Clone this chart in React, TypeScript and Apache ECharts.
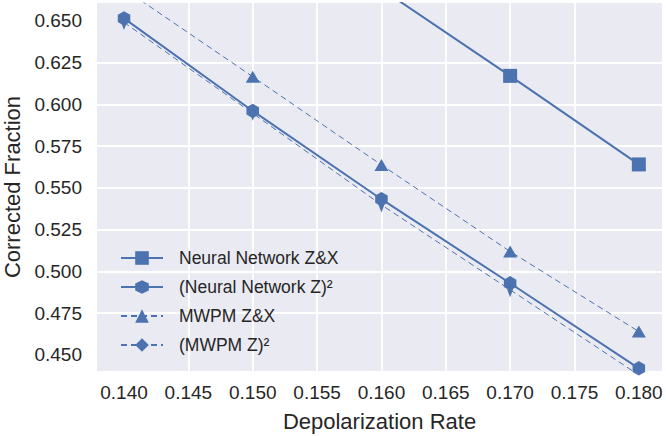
import React, { useEffect, useRef } from "react";
import * as echarts from "echarts";

const rates = [0.14, 0.15, 0.16, 0.17, 0.18];
const nnZX = [0.775, 0.722, 0.669, 0.617, 0.564];
const nnZ2 = [0.6514, 0.596, 0.5432, 0.4929, 0.442];
const mwpmZX = [0.669, 0.6165, 0.5637, 0.5119, 0.464];
const mwpmZ2 = [0.649, 0.5946, 0.5398, 0.489, 0.438];

const xTicks = [0.14, 0.145, 0.15, 0.155, 0.16, 0.165, 0.17, 0.175, 0.18];
const yTicks = [0.45, 0.475, 0.5, 0.525, 0.55, 0.575, 0.6, 0.625, 0.65];

const seriesNames = [
  "Neural Network Z&X",
  "(Neural Network Z)²",
  "MWPM Z&X",
  "(MWPM Z)²",
];

const COLOR = "#4C72B0";
const TEXT = "#262626";
const FONT = "'Liberation Sans', Arial, sans-serif";

const HEX = "path://M0,-1 L0.866,-0.5 L0.866,0.5 L0,1 L-0.866,0.5 L-0.866,-0.5 Z";
const THIN_DIAMOND = "path://M0,-1 L0.6,0 L0,1 L-0.6,0 Z";

function pairs(ys: number[]) {
  return rates.map((x, i) => [x, ys[i]]);
}

export default function App() {
  const ref = useRef<HTMLDivElement>(null);
  useEffect(() => {
    if (!ref.current) return;
    const chart = echarts.init(ref.current, undefined, { renderer: "svg" });
    const solid = { color: COLOR, width: 2, type: "solid" as const };
    const dashed = { color: COLOR, width: 1, type: [6, 4] as any };
    chart.setOption({
      animation: false,
      backgroundColor: "#ffffff",
      grid: {
        left: 97,
        right: 4,
        top: 3,
        bottom: 65,
        show: true,
        backgroundColor: "#EAEAF2",
        borderWidth: 0,
        containLabel: false,
        outerBoundsMode: "none",
      },
      xAxis: {
        type: "value",
        min: 0.1379,
        max: 0.1818,
        name: "Depolarization Rate",
        nameLocation: "middle",
        nameGap: 39,
        nameTextStyle: { color: TEXT, fontSize: 22, fontFamily: FONT },
        axisLine: { show: false },
        axisTick: { show: false, customValues: xTicks },
        axisLabel: {
          customValues: xTicks,
          color: TEXT,
          fontSize: 19,
          fontFamily: FONT,
          margin: 12,
          formatter: (v: number) => v.toFixed(3),
        },
        splitLine: {
          show: true,
          showMinLine: false,
          showMaxLine: false,
          lineStyle: { color: "#ffffff", width: 1.8 },
        },
      },
      yAxis: {
        type: "value",
        min: 0.4404,
        max: 0.6606,
        name: "Corrected Fraction",
        nameLocation: "middle",
        nameGap: 74,
        nameTextStyle: { color: TEXT, fontSize: 22, fontFamily: FONT },
        axisLine: { show: false },
        axisTick: { show: false, customValues: yTicks },
        axisLabel: {
          customValues: yTicks,
          color: TEXT,
          fontSize: 19,
          fontFamily: FONT,
          margin: 15,
          formatter: (v: number) => v.toFixed(3),
        },
        splitLine: {
          show: true,
          showMinLine: false,
          showMaxLine: false,
          lineStyle: { color: "#ffffff", width: 1.8 },
        },
      },
      legend: {
        left: 115,
        top: 244,
        orient: "vertical",
        itemWidth: 42,
        itemHeight: 17,
        itemGap: 11,
        data: seriesNames,
        textStyle: {
          color: TEXT,
          fontSize: 17.5,
          fontFamily: FONT,
          padding: [0, 0, 0, 11],
        },
      },
      series: [
        {
          name: seriesNames[0],
          type: "line",
          data: pairs(nnZX),
          symbol: "rect",
          symbolSize: 14,
          lineStyle: solid,
          itemStyle: { color: COLOR },
          clip: true,
          z: 2,
        },
        {
          name: seriesNames[1],
          type: "line",
          data: pairs(nnZ2),
          symbol: HEX,
          symbolSize: [12.5, 14.5],
          lineStyle: solid,
          itemStyle: { color: COLOR },
          clip: true,
          z: 3,
        },
        {
          name: seriesNames[2],
          type: "line",
          data: pairs(mwpmZX),
          symbol: "triangle",
          symbolSize: [14, 12],
          lineStyle: dashed,
          itemStyle: { color: COLOR },
          clip: true,
          z: 4,
        },
        {
          name: seriesNames[3],
          type: "line",
          data: pairs(mwpmZ2),
          symbol: THIN_DIAMOND,
          symbolSize: [9.5, 15],
          symbolKeepAspect: true,
          lineStyle: dashed,
          itemStyle: { color: COLOR },
          clip: true,
          z: 5,
        },
      ],
    });
    return () => chart.dispose();
  }, []);
  return (
    <div
      ref={ref}
      style={{ position: "fixed", left: 0, top: 0, width: 666, height: 436 }}
    />
  );
}
